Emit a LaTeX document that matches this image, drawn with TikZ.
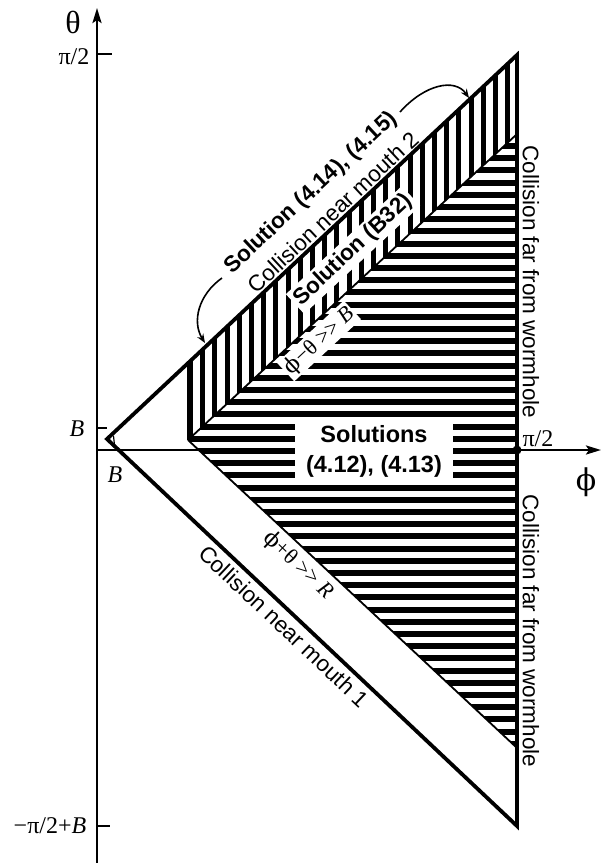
\documentclass[tikz,border=0pt]{standalone}
\usepackage{fontspec}
\setmainfont{Liberation Sans}
\newfontfamily\seriffont{Liberation Serif}
\newfontfamily\phifont{DejaVu Serif}
\newcommand{\vphi}{{\phifont ϕ}}
\usetikzlibrary{arrows.meta}
\begin{document}
\begin{tikzpicture}[x=1pt,y=-1pt,
  axisline/.style={line width=2.4pt},
  edgeline/.style={line width=3.8pt, line join=miter},
  innerline/.style={line width=1.8pt},
  tickline/.style={line width=2pt},
  lbl/.style={font=\fontsize{22.5}{26}\selectfont, inner sep=1pt},
  blbl/.style={font=\fontsize{22.5}{26}\selectfont\bfseries, inner sep=1pt},
  mlbl/.style={font=\fontsize{24}{28}\selectfont\seriffont, inner sep=0pt},
  biglbl/.style={font=\fontsize{32}{36}\selectfont\seriffont, inner sep=0pt},
  curvarrow/.style={line width=1.6pt, -{Stealth[length=9pt,width=7pt]}},
  axarrow/.style={axisline, -{Stealth[length=15pt,width=9pt,inset=3pt]}}]
\useasboundingbox (0,0) rectangle (603,863);
% coordinates
\coordinate (O) at (97,450);
\coordinate (ytop) at (97,8);
\coordinate (ybot) at (97,863);
\coordinate (xend) at (601,450);
\coordinate (V) at (107,439);
\coordinate (T) at (517,55);
\coordinate (Bt) at (517,826);
\coordinate (I) at (188,440);
\coordinate (Iu) at (188,363);
\coordinate (Ru) at (517,134);
\coordinate (Rl) at (517,748);
\coordinate (P) at (517,450);
% axes
\draw[axarrow] (ybot) -- (ytop);
\draw[axarrow] (O) -- (xend);
% horizontal hatching
\begin{scope}
\clip (I) -- (Ru) -- (Rl) -- cycle;
\fill[white] (I) -- (Ru) -- (Rl) -- cycle;
\foreach \k in {-27,...,27}
  \draw[line width=6pt] (180,{451+12.2*\k}) -- (525,{451+12.2*\k});
\end{scope}
% vertical hatching
\begin{scope}
\clip (I) -- (Iu) -- (T) -- (Ru) -- cycle;
\foreach \k in {0,...,27}
  \draw[line width=5pt] ({190.5+12.2*\k},40) -- ({190.5+12.2*\k},460);
\end{scope}
% white label boxes
\node[font=\fontsize{23.5}{28}\selectfont\bfseries, fill=white, minimum width=158pt, minimum height=58pt, align=center] (sol412) at (374,451)
  {Solutions\\[2pt](4.12), (4.13)};
\node[blbl, rotate=43, fill=white, inner sep=3pt] (sb32) at (353,250) {Solution (B32)};
\node[font=\fontsize{22}{26}\selectfont\seriffont, rotate=43, fill=white, inner sep=2pt] (pmt) at (319,341) {\vphi−θ >> \textit{B}};
% region lines
\draw[innerline] (I) -- (Iu);
\draw[innerline] (I) -- (Ru);
\draw[innerline] (I) -- (Rl);
\draw[edgeline] (V) -- (T) -- (Bt) -- cycle;
% small mark near vertex
\draw[line width=1.2pt] (113.5,436) -- (114.5,445);
% ticks
\draw[tickline] (97,54) -- (112,54);
\draw[tickline] (97,428) -- (107,428);
\draw[tickline] (97,826) -- (110,826);
\fill (P) circle (4.5);
% axis labels
\node[biglbl] (theta) at (73,22) {θ};
\node[font=\fontsize{30}{34}\selectfont, inner sep=0pt] (phi) at (586,482) {\vphi};
\node[mlbl] (pihalf) at (74,57) {π/2};
\node[mlbl] (Blab) at (77,429) {\textit{B}};
\node[mlbl] (Blab2) at (115,475) {\textit{B}};
\node[mlbl] (mpi) at (50,826) {−π/2+\textit{B}};
\node[mlbl] (pihalfr) at (538,439) {π/2};
% edge labels
\node[lbl, rotate=43] (cn2) at (333,212) {Collision near mouth 2};
\node[blbl, rotate=43] (s414) at (311,193) {Solution (4.14), (4.15)};
\node[lbl, rotate=-43.3] (cn1) at (284,626) {Collision near mouth 1};
\node[font=\fontsize{22}{26}\selectfont\seriffont, rotate=-43.3, inner sep=0pt] (ppt) at (298,565) {\vphi+θ >> \textit{R}};
\node[lbl, rotate=-90] (cf1) at (531,282) {Collision far from wormhole};
\node[lbl, rotate=-90] (cf2) at (531,631) {Collision far from wormhole};
% curved arrows
\coordinate (la) at (222,278);
\coordinate (lb) at (205,343);
\coordinate (ra) at (400,112);
\coordinate (rb) at (469,98);
\draw[curvarrow] (la) .. controls (198,295) and (192,322) .. (lb);
\draw[curvarrow] (ra) .. controls (425,84) and (455,78) .. (rb);
\end{tikzpicture}
\end{document}
